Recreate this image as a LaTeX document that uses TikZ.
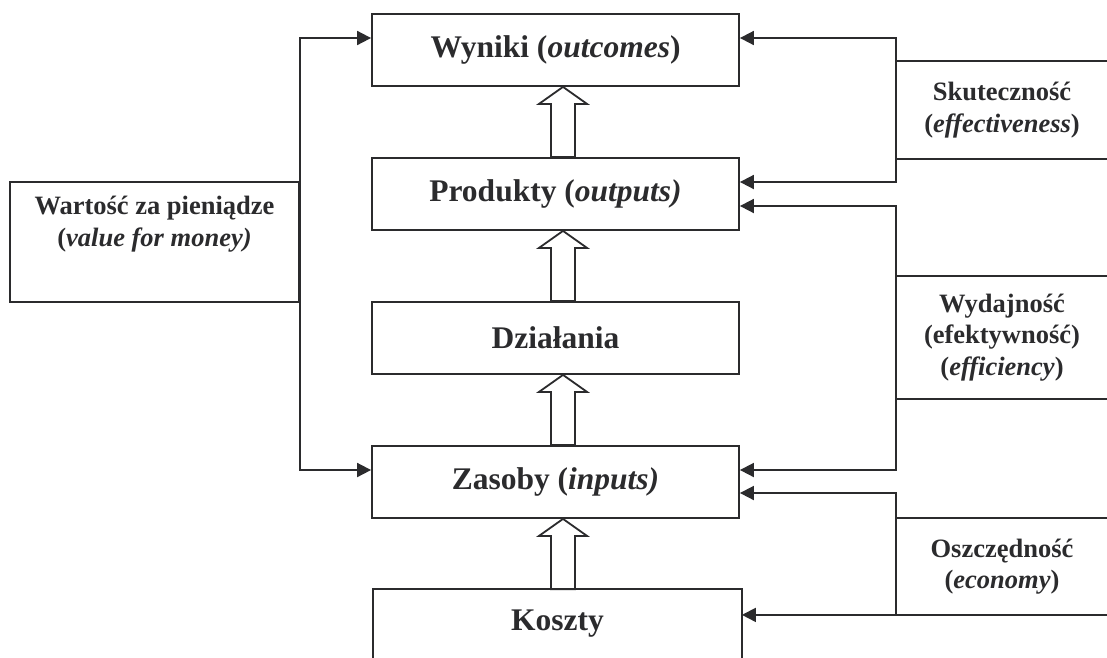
\documentclass[tikz,border=0pt]{standalone}
\usepackage{fontspec}
\setmainfont{Liberation Serif}
\usetikzlibrary{arrows.meta,calc}
\definecolor{ink}{HTML}{2B2B2D}
\newcommand\hollowarr[2]{%
  \coordinate (ht) at ($(#1.south)+(7.5,0)$);
  \coordinate (hb) at (ht |- #2.north);
  \draw[hollow] (ht) -- ++(24,17) -- ++(-12,0) -- ($(hb)+(12,0)$) -- ($(hb)+(-12,0)$) -- ($(ht)+(-12,17)$) -- ++(-12,0) -- cycle;}
\begin{document}
\begin{tikzpicture}[x=1pt,y=-1pt,
  line width=1.8pt, draw=ink, text=ink,
  mainbox/.style={draw, rectangle, minimum width=367pt, minimum height=72pt, inner sep=0pt,
    font=\fontsize{31.5}{36}\selectfont\bfseries},
  sidebox/.style={rectangle, minimum width=210pt, inner sep=0pt, align=center,
    font=\fontsize{26.5}{31.5}\selectfont\bfseries},
  arr/.style={-{Triangle[length=14pt,width=14pt]}},
  hollow/.style={draw, fill=white, line join=miter}]
\useasboundingbox (0,0) rectangle (1107,657);
\fill[white] (0,0) rectangle (1107,657);

\node[mainbox] (wyn) at (555.5,50) {Wyniki (\textit{outcomes})};
\node[mainbox] (pro) at (555.5,194) {Produkty (\textit{outputs)}};
\node[mainbox] (dzi) at (555.5,338) {Działania};
\node[mainbox] (zas) at (555.5,482) {Zasoby (\textit{inputs)}};
\node[mainbox, draw=none, minimum height=67pt] (kos) at (557.5,623.5) {Koszty};
\draw (kos.south west) -- (kos.north west) -- (kos.north east) -- (kos.south east);

\node[draw, rectangle, minimum width=289pt, minimum height=120pt, inner sep=0pt, align=center,
  font=\fontsize{26.5}{32}\selectfont\bfseries] (val) at (154.5,242)
  {Wartość za pieniądze\\(\textit{value for money)}\\\strut};

\node[sidebox, minimum height=96pt] (sku) at (1002,110) {Skuteczność\\(\textit{effectiveness})};
\draw (sku.north east) -- (sku.north west) -- (sku.south west) -- (sku.south east);
\node[sidebox, minimum height=121pt] (wyd) at (1002,337.5) {Wydajność\\(efektywność)\\(\textit{efficiency})};
\draw (wyd.north east) -- (wyd.north west) -- (wyd.south west) -- (wyd.south east);
\node[sidebox, minimum height=95pt] (osz) at (1002,566.5) {Oszczędność\\(\textit{economy})};
\draw (osz.north east) -- (osz.north west) -- (osz.south west) -- (osz.south east);

\hollowarr{wyn}{pro}
\hollowarr{pro}{dzi}
\hollowarr{dzi}{zas}
\hollowarr{zas}{kos}

\draw[arr] (val.east) |- ([yshift=12pt]wyn.west);
\draw[arr] (val.east) |- ([yshift=12pt]zas.west);

\draw[arr] (sku.west) |- ([yshift=12pt]wyn.east);
\draw[arr] (sku.west) |- ([yshift=12pt]pro.east);
\draw[arr] (wyd.west) |- ([yshift=-12pt]pro.east);
\draw[arr] (wyd.west) |- ([yshift=12pt]zas.east);
\draw[arr] (osz.west) |- ([yshift=-11pt]zas.east);
\draw[arr] (osz.south west) -- (osz.south west -| kos.east);
\end{tikzpicture}
\end{document}
